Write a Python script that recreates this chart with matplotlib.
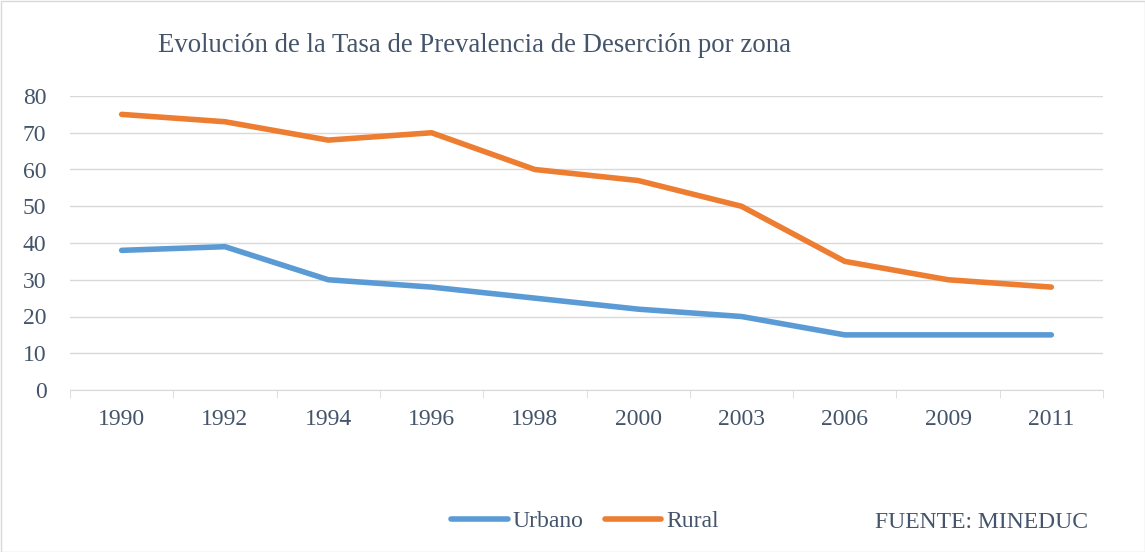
import matplotlib
matplotlib.use("Agg")
import matplotlib.pyplot as plt
from matplotlib.lines import Line2D
from matplotlib.patches import Rectangle

years = ["1990", "1992", "1994", "1996", "1998", "2000", "2003", "2006", "2009", "2011"]
urbano = [38, 39, 30, 28, 25, 22, 20, 15, 15, 15]
rural = [75, 73, 68, 70, 60, 57, 50, 35, 30, 28]

TXT = "#44546A"
GRID = "#D9D9D9"
C_URB = "#5B9BD5"
C_RUR = "#ED7D31"
FONT = ["Liberation Serif", "DejaVu Serif"]

fig = plt.figure(figsize=(11.45, 5.52), dpi=100)
fig.patches.append(Rectangle((0.5/1145, 0.5/552), 1 - 1/1145, 1 - 1/552, transform=fig.transFigure,
                             fill=False, edgecolor="#D9D9D9", linewidth=1))
ax = fig.add_axes([70/1145, 1 - 390/552, (1103-70)/1145, (390-96)/552])

x = list(range(len(years)))
ax.plot(x, urbano, color=C_URB, lw=4.0, solid_capstyle="round", solid_joinstyle="round", label="Urbano")
ax.plot(x, rural, color=C_RUR, lw=4.0, solid_capstyle="round", solid_joinstyle="round", label="Rural")

ax.set_xlim(-0.5, len(years) - 0.5)
ax.set_ylim(0, 80)
ax.set_yticks(range(0, 81, 10))
ax.set_xticks(x)
ax.set_xticklabels(years)
ax.set_xticks([i - 0.5 for i in range(len(years) + 1)], minor=True)
ax.grid(axis="y", color=GRID, lw=1)
ax.set_axisbelow(True)
for s in ["top", "right", "left"]:
    ax.spines[s].set_visible(False)
ax.spines["bottom"].set_color(GRID)
ax.tick_params(axis="x", which="major", length=0, pad=14)
ax.tick_params(axis="x", which="minor", length=6, color=GRID)
ax.tick_params(axis="y", length=0, pad=17)
for lab in ax.get_xticklabels() + ax.get_yticklabels():
    lab.set_fontfamily(FONT)
    lab.set_fontsize(17)
    lab.set_color(TXT)

fig.text(158/1145, 1 - 45/552, "Evolución de la Tasa de Prevalencia de Deserción por zona",
         family=FONT, fontsize=19.3, color=TXT, ha="left", va="center")

leg = fig.legend(handles=[Line2D([], [], color=C_URB, lw=4.0, solid_capstyle="round"),
                          Line2D([], [], color=C_RUR, lw=4.0, solid_capstyle="round")],
                 labels=["Urbano", "Rural"], loc="center", bbox_to_anchor=(585/1145, 1 - 521/552),
                 ncol=2, frameon=False, handlelength=2.4, handletextpad=0.2, columnspacing=0.9,
                 prop={"family": FONT, "size": 17})
for t in leg.get_texts():
    t.set_color(TXT)

fig.text(1088/1145, 1 - 523/552, "FUENTE: MINEDUC", family=FONT, fontsize=17, color=TXT,
         ha="right", va="center")

fig.savefig("out.png", dpi=100)
